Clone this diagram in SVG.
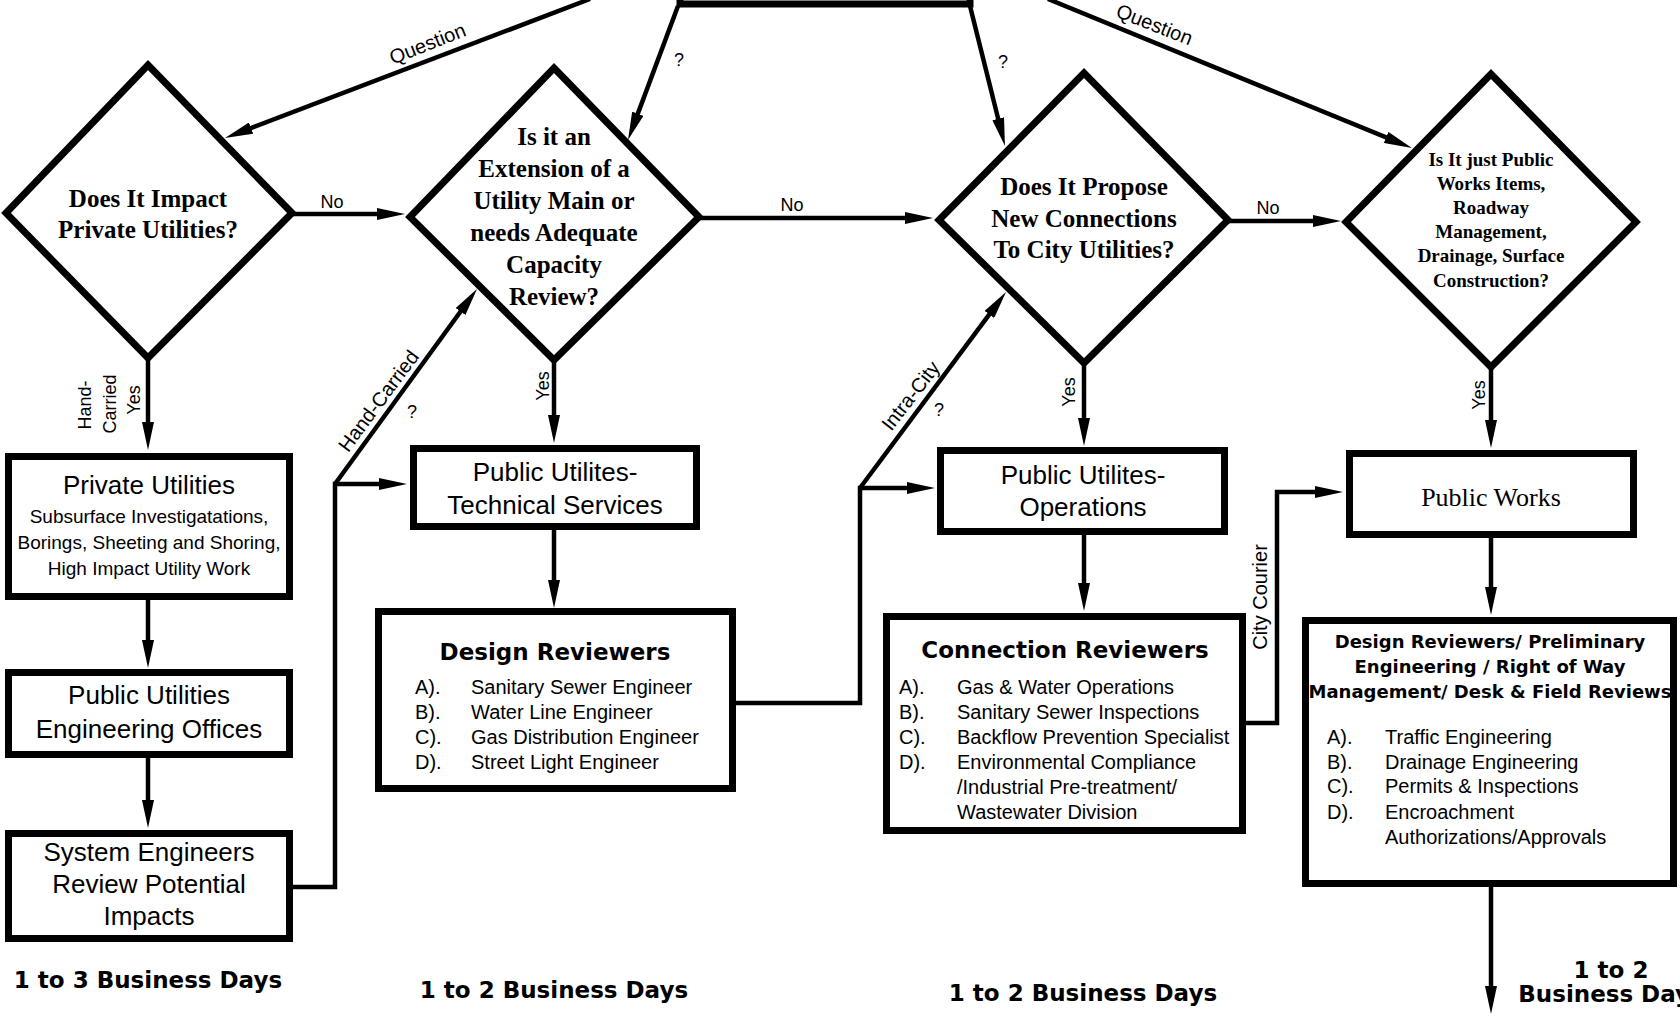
<svg xmlns="http://www.w3.org/2000/svg" width="1680" height="1016" viewBox="0 0 1680 1016">
<style>
.bg{fill:#fff}
.node{fill:#fff;stroke:#000;stroke-width:7;stroke-linejoin:miter}
.edge{fill:none;stroke:#000;stroke-width:4.5;stroke-linejoin:miter}
.arr{marker-end:url(#ah)}
.q{font-family:"Liberation Serif","Times New Roman",serif;font-weight:bold;font-size:25px;text-anchor:middle;fill:#000}
.qs{font-family:"Liberation Serif","Times New Roman",serif;font-weight:bold;font-size:19px;text-anchor:middle;fill:#000}
.t{font-family:"Liberation Sans",Arial,sans-serif;font-size:26px;text-anchor:middle;fill:#000}
.ts{font-family:"Liberation Sans",Arial,sans-serif;font-size:19px;text-anchor:middle;fill:#000}
.li{font-family:"Liberation Sans",Arial,sans-serif;font-size:20px;fill:#000}
.h{font-family:"DejaVu Sans",Verdana,sans-serif;font-weight:bold;font-size:23px;text-anchor:middle;fill:#000}
.hs{font-family:"DejaVu Sans",Verdana,sans-serif;font-weight:bold;font-size:18px;text-anchor:middle;fill:#000}
.lab{font-family:"Liberation Sans",Arial,sans-serif;font-size:18px;text-anchor:middle;fill:#000}
.labl{font-family:"Liberation Sans",Arial,sans-serif;font-size:20px;text-anchor:middle;fill:#000}
.pw{font-family:"Liberation Serif","Times New Roman",serif;font-size:26px;text-anchor:middle;fill:#000}
</style>
<defs>
<marker id="ah" markerUnits="userSpaceOnUse" markerWidth="28" markerHeight="12" refX="10" refY="6" orient="auto">
<path d="M0,0 L28,6 L0,12 z" fill="#000"/>
</marker>
</defs>
<rect class="bg" x="0" y="0" width="1680" height="1016"/>

<g id="connectors">
<path class="edge arr" d="M590,-1 L241.8,131.6"/>
<path class="edge arr" d="M678,6 L634.3,123.1"/>
<path class="edge arr" d="M970,6 L1000.6,128.5"/>
<path class="edge arr" d="M1048,-1 L1395.3,141.2"/>
<path class="edge arr" d="M292,214 H387"/>
<path class="edge arr" d="M699,218 H915"/>
<path class="edge arr" d="M1228,221 H1323"/>
<path class="edge arr" d="M148,358 V432"/>
<path class="edge arr" d="M148,600 V650"/>
<path class="edge arr" d="M148,758 V810"/>
<path class="edge arr" d="M293,887 H335 V484 H389"/>
<path class="edge arr" d="M335,484 L466.4,303.5"/>
<path class="edge arr" d="M554,360 V425"/>
<path class="edge arr" d="M554,530 V590"/>
<path class="edge arr" d="M736,703 H860 V488 H917"/>
<path class="edge arr" d="M860,488 L995.3,306.4"/>
<path class="edge arr" d="M1084,363 V428"/>
<path class="edge arr" d="M1084,535 V593"/>
<path class="edge arr" d="M1246,723 H1277 V492 H1325"/>
<path class="edge arr" d="M1491,367 V430"/>
<path class="edge arr" d="M1491,538 V597"/>
<path class="edge arr" d="M1491,887 V996"/>
<text class="labl" transform="translate(430,50) rotate(-21.5)">Question</text>
<text class="labl" transform="translate(1152,31) rotate(21.5)">Question</text>
<text class="lab" x="679" y="66">?</text>
<text class="lab" x="1003" y="68">?</text>
<text class="lab" x="332" y="208">No</text>
<text class="lab" x="792" y="211">No</text>
<text class="lab" x="1268" y="214">No</text>
<text class="lab" transform="translate(91,405) rotate(-90)">Hand-</text>
<text class="lab" transform="translate(116,404) rotate(-90)">Carried</text>
<text class="lab" transform="translate(140,400) rotate(-90)">Yes</text>
<text class="labl" transform="translate(384,405) rotate(-53.4)">Hand-Carried</text>
<text class="lab" x="412" y="418">?</text>
<text class="lab" transform="translate(549,386) rotate(-90)">Yes</text>
<text class="labl" transform="translate(916,400) rotate(-52.2)">Intra-City</text>
<text class="lab" x="939" y="416">?</text>
<text class="lab" transform="translate(1075,392) rotate(-90)">Yes</text>
<text class="labl" transform="translate(1267,597) rotate(-90)">City Courier</text>
<text class="lab" transform="translate(1485,395) rotate(-90)">Yes</text>
</g>

<g id="top-box">
<rect class="node" x="680" y="-50" width="290" height="54"/>
</g>

<g id="d-private">
<polygon class="node" points="148,65 292,213 148,358 6,213"/>
<text class="q" x="148" y="207">Does It Impact</text>
<text class="q" x="148" y="238">Private Utilities?</text>
</g>

<g id="d-extension">
<polygon class="node" points="554,68 699,217 554,360 410,217"/>
<text class="q" x="554" y="145">Is it an</text>
<text class="q" x="554" y="177">Extension of a</text>
<text class="q" x="554" y="209">Utility Main or</text>
<text class="q" x="554" y="241">needs Adequate</text>
<text class="q" x="554" y="273">Capacity</text>
<text class="q" x="554" y="305">Review?</text>
</g>

<g id="d-connections">
<polygon class="node" points="1084,73 1228,220 1084,363 939,220"/>
<text class="q" x="1084" y="195">Does It Propose</text>
<text class="q" x="1084" y="227">New Connections</text>
<text class="q" x="1084" y="258">To City Utilities?</text>
</g>

<g id="d-publicworks">
<polygon class="node" points="1491,74 1636,222 1491,367 1346,222"/>
<text class="qs" x="1491" y="166">Is It just Public</text>
<text class="qs" x="1491" y="190">Works Items,</text>
<text class="qs" x="1491" y="214">Roadway</text>
<text class="qs" x="1491" y="238">Management,</text>
<text class="qs" x="1491" y="262">Drainage, Surface</text>
<text class="qs" x="1491" y="287">Construction?</text>
</g>

<g id="private-utilities">
<rect class="node" x="8.5" y="456.5" width="281" height="140"/>
<text class="t" x="149" y="494">Private Utilities</text>
<text class="ts" x="149" y="523">Subsurface Investigatations,</text>
<text class="ts" x="149" y="549">Borings, Sheeting and Shoring,</text>
<text class="ts" x="149" y="575">High Impact Utility Work</text>
</g>

<g id="pu-engineering">
<rect class="node" x="8.5" y="672.5" width="281" height="82"/>
<text class="t" x="149" y="704">Public Utilities</text>
<text class="t" x="149" y="738">Engineering Offices</text>
</g>

<g id="system-engineers">
<rect class="node" x="8.5" y="833.5" width="281" height="105"/>
<text class="t" x="149" y="861">System Engineers</text>
<text class="t" x="149" y="893">Review Potential</text>
<text class="t" x="149" y="925">Impacts</text>
</g>

<g id="pu-technical">
<rect class="node" x="413.5" y="448.5" width="283" height="78"/>
<text class="t" x="555" y="481">Public Utilites-</text>
<text class="t" x="555" y="514">Technical Services</text>
</g>

<g id="design-reviewers">
<rect class="node" x="378.5" y="611.5" width="354" height="177"/>
<text class="h" x="555" y="660">Design Reviewers</text>
<text class="li" x="415" y="694">A).</text><text class="li" x="471" y="694">Sanitary Sewer Engineer</text>
<text class="li" x="415" y="719">B).</text><text class="li" x="471" y="719">Water Line Engineer</text>
<text class="li" x="415" y="744">C).</text><text class="li" x="471" y="744">Gas Distribution Engineer</text>
<text class="li" x="415" y="769">D).</text><text class="li" x="471" y="769">Street Light Engineer</text>
</g>

<g id="pu-operations">
<rect class="node" x="940.5" y="450.5" width="284" height="81"/>
<text class="t" x="1083" y="484">Public Utilites-</text>
<text class="t" x="1083" y="516">Operations</text>
</g>

<g id="connection-reviewers">
<rect class="node" x="886.5" y="616.5" width="356" height="214"/>
<text class="h" x="1065" y="658">Connection Reviewers</text>
<text class="li" x="899" y="694">A).</text><text class="li" x="957" y="694">Gas &amp; Water Operations</text>
<text class="li" x="899" y="719">B).</text><text class="li" x="957" y="719">Sanitary Sewer Inspections</text>
<text class="li" x="899" y="744">C).</text><text class="li" x="957" y="744">Backflow Prevention Specialist</text>
<text class="li" x="899" y="769">D).</text><text class="li" x="957" y="769">Environmental Compliance</text>
<text class="li" x="957" y="794">/Industrial Pre-treatment/</text>
<text class="li" x="957" y="819">Wastewater Division</text>
</g>

<g id="public-works">
<rect class="node" x="1349.5" y="453.5" width="284" height="81"/>
<text class="pw" x="1491" y="506">Public Works</text>
</g>

<g id="pw-reviewers">
<rect class="node" x="1305.5" y="620.5" width="368" height="263"/>
<text class="hs" x="1490" y="648">Design Reviewers/ Preliminary</text>
<text class="hs" x="1490" y="673">Engineering / Right of Way</text>
<text class="hs" x="1490" y="698">Management/ Desk &amp; Field Reviews</text>
<text class="li" x="1327" y="744">A).</text><text class="li" x="1385" y="744">Traffic Engineering</text>
<text class="li" x="1327" y="769">B).</text><text class="li" x="1385" y="769">Drainage Engineering</text>
<text class="li" x="1327" y="793">C).</text><text class="li" x="1385" y="793">Permits &amp; Inspections</text>
<text class="li" x="1327" y="819">D).</text><text class="li" x="1385" y="819">Encroachment</text>
<text class="li" x="1385" y="844">Authorizations/Approvals</text>
</g>

<g id="durations">
<text class="h" x="148" y="988">1 to 3 Business Days</text>
<text class="h" x="554" y="998">1 to 2 Business Days</text>
<text class="h" x="1083" y="1001">1 to 2 Business Days</text>
<text class="h" x="1611" y="978">1 to 2</text>
<text class="h" x="1611" y="1002">Business Days</text>
</g>
</svg>
